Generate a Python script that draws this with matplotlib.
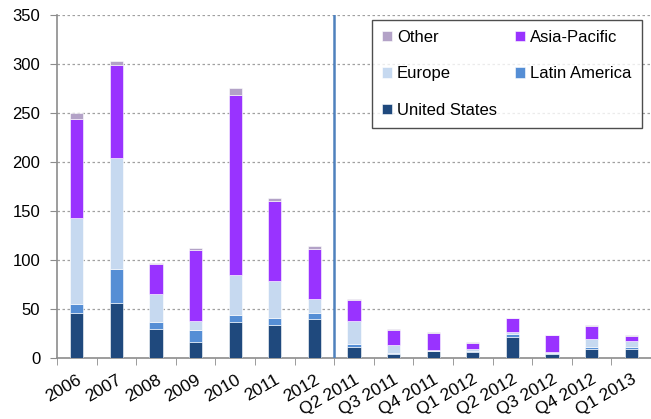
import matplotlib
matplotlib.use("Agg")
import matplotlib.pyplot as plt
from matplotlib import font_manager
import numpy as np

plt.rcParams['font.family'] = ['Liberation Sans', 'DejaVu Sans']

names = {f.name for f in font_manager.fontManager.ttflist}
if "Liberation Sans Narrow" in names:
    legend_font = dict(family="Liberation Sans Narrow", size=14.5)
else:
    legend_font = dict(family="Liberation Sans", size=12)

categories = ["2006", "2007", "2008", "2009", "2010", "2011", "2012",
              "Q2 2011", "Q3 2011", "Q4 2011", "Q1 2012", "Q2 2012", "Q3 2012", "Q4 2012", "Q1 2013"]
united_states = [46, 56, 30, 16.6, 37, 34, 39.8, 10.8, 3.7, 7.2, 6.2, 21.1, 3.7, 8.8, 8.8]
latin_america = [9, 35, 7, 12, 7, 7, 6.5, 4, 1, 0.3, 1.2, 3, 1, 2.7, 2.7]
europe = [88, 113, 28, 9, 41, 37.4, 14, 23.5, 8.6, 0.7, 2, 2, 1.4, 8.2, 5.9]
asia_pacific = [101, 95, 31.5, 72.5, 184, 82.4, 50.7, 20.7, 15.6, 17.6, 5.8, 14.3, 17.4, 12.6, 5.4]
other = [6, 4, 1, 2, 6.5, 3, 3.4, 1.5, 0.7, 0.3, 1.4, 0.5, 0.3, 1.7, 0.7]

series = [
    ("United States", united_states, "#1F497D"),
    ("Latin America", latin_america, "#558ED5"),
    ("Europe", europe, "#C6D9F0"),
    ("Asia-Pacific", asia_pacific, "#9933FF"),
    ("Other", other, "#B3A2C7"),
]

fig = plt.figure(figsize=(6.51, 4.19), dpi=100)
ax = fig.add_axes([57/651, 61/419, 1 - 57/651, (358.3 - 15.7)/419])

x = np.arange(len(categories))
bottom = np.zeros(len(categories))
handles = {}
for name, vals, color in series:
    v = np.array(vals, dtype=float)
    b = ax.bar(x, v, width=0.33, bottom=bottom, color=color,
               edgecolor="white", linewidth=0.4, zorder=3, label=name)
    handles[name] = b
    bottom += v

ax.set_ylim(0, 350)
ax.set_xlim(-0.5, -0.5 + (651 - 57) / 40.07)
ax.set_yticks(np.arange(0, 351, 50))
for yv in np.arange(50, 351, 50):
    ax.axhline(yv, color="#a0a0a0", linestyle=(0, (2, 2)), linewidth=0.9, zorder=1)

ax.axvline(6.5, color="#4F81BD", linewidth=1.8, zorder=4)

ax.set_xticks(x)
ax.set_xticklabels(categories, rotation=30, ha="right", rotation_mode="anchor", fontsize=12.5)
ax.tick_params(axis="x", length=0, pad=10)
ax.set_xticks(np.arange(-0.5, len(categories), 1), minor=True)
ax.tick_params(axis="x", which="minor", length=5, color="#8c8c8c", direction="out")
ax.tick_params(axis="y", labelsize=12, length=5, color="#8c8c8c", direction="out", pad=7)

for s in ["top", "right"]:
    ax.spines[s].set_visible(False)
for s in ["left", "bottom"]:
    ax.spines[s].set_color("#8c8c8c")
    ax.spines[s].set_linewidth(1.2)

order = ["Other", "Europe", "United States", "Asia-Pacific", "Latin America"]
leg = ax.legend([handles[n] for n in order], order, ncol=2, loc="upper left",
                bbox_to_anchor=((372 - 57) / 594, (358.3 - 20) / 342.6),
                prop=legend_font, frameon=True, fancybox=False, handlelength=0.6,
                handleheight=0.6, columnspacing=1.1, labelspacing=1.3,
                borderpad=0.6, handletextpad=0.3, borderaxespad=0)
leg.get_frame().set_edgecolor("#222222")
leg.get_frame().set_linewidth(1.0)
for h in leg.legend_handles:
    h.set_edgecolor("white")

fig.savefig("out.png", dpi=100)
